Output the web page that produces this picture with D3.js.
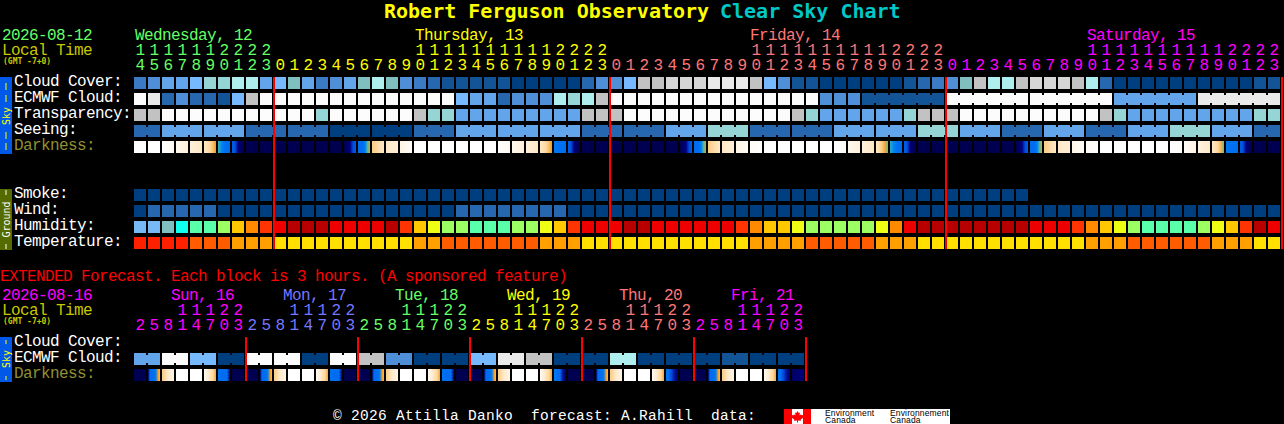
<!DOCTYPE html>
<html><head><meta charset="utf-8">
<script src="https://cdn.jsdelivr.net/npm/d3@7/dist/d3.min.js"></script>
<style>
html,body{margin:0;padding:0;background:#000;overflow:hidden}
svg{display:block;background:#000}
text{font-family:"Liberation Mono",monospace;font-size:16px;letter-spacing:-0.6px;white-space:pre}
</style></head><body><div id="chart"></div>
<script>
// Row labels
const mainLabels = ["Cloud Cover:","ECMWF Cloud:","Transparency:","Seeing:","Darkness:"];
const groundLabels = ["Smoke:","Wind:","Humidity:","Temperature:"];
const extLabels = ["Cloud Cover:","ECMWF Cloud:","Darkness:"];
const hours = [14,15,16,17,18,19,20,21,22,23,0,1,2,3,4,5,6,7,8,9,10,11,12,13,14,15,16,17,18,19,20,21,22,23,0,1,2,3,4,5,6,7,8,9,10,11,12,13,14,15,16,17,18,19,20,21,22,23,0,1,2,3,4,5,6,7,8,9,10,11,12,13,14,15,16,17,18,19,20,21,22,23];
const dayNames = ["Wednesday, 12","Thursday, 13","Friday, 14","Saturday, 15"];
const extHours = [2,5,8,11,14,17,20,23,2,5,8,11,14,17,20,23,2,5,8,11,14,17,20,23,2,5,8,11,14,17,20,23,2,5,8,11,14,17,20,23,2,5,8,11,14,17,20,23];
const extDayNames = ["Sun, 16","Mon, 17","Tue, 18","Wed, 19","Thu, 20","Fri, 21"];

// Sky levels: index into the cloud palette
const cloudCover = [3,4,5,5,6,8,8,9,9,5, 6,7,5,3,4,5,7,9,7,4, 3,2,1,1,1,1,1,0,0,0, 0,0,2,4,4,6,10,10,11,11, 11,12,12,12,10,6,4,1,1,0, 0,0,0,0,0,1,2,3,4,7, 10,9,9,10,11,11,11,10,9,2, 0,0,0,0,0,0,0,0,0,0, 1,1];
const ecmwfCloud = [13,12,2,4,2,2,1,6,10,13, 13,13,13,13,13,13,13,13,13,13, 13,13,13,6,5,5,2,4,4,4, 9,8,9,10,13,13,13,13,13,13, 13,13,13,13,13,13,13,13,13,4, 4,4,1,1,1,1,1,1,13,13, 13,13,13,13,13,13,13,13,13,13, 5,5,5,5,5,5,12,12,12,12, 12,12];
const transparency = [10,10,13,13,13,13,13,13,13,13, 13,13,13,8,13,13,13,13,13,13, 10,8,8,5,5,5,5,5,5,5, 5,5,10,10,10,13,13,13,13,13, 13,13,13,13,13,13,13,10,8,5, 5,5,5,5,5,8,10,10,10,13, 13,13,13,13,13,13,13,13,13,10, 8,5,5,5,5,5,5,5,5,5, 8,8];
const seeing = [2,2,5,5,5,5,5,5,2,2, 2,2,2,2,0,0,0,0,0,0, 2,2,2,5,5,5,5,5,5,5, 5,5,2,2,2,2,2,2,5,5, 5,8,8,8,2,2,2,2,2,2, 5,5,5,5,5,5,8,8,8,5, 5,5,2,2,2,5,5,5,2,2, 2,5,5,5,8,8,8,5,5,5, 2,2];
const smoke = [0,0,0,0,0,0,0,0,0,0, 0,0,0,0,0,0,0,0,0,0, 0,0,0,0,0,0,0,0,0,0, 0,0,0,0,0,0,0,0,0,0, 0,0,0,0,0,0,0,0,0,0, 0,0,0,0,0,0,0,0,0,0, 0,0,0,0];
const wind = [0,2,2,2,2,2,0,0,0,0, 0,0,0,0,0,0,0,0,0,0, 0,0,0,2,2,2,2,2,2,2, 2,0,0,0,0,0,0,0,0,0, 0,0,0,0,0,0,0,0,0,0, 0,0,0,0,0,0,0,0,0,0, 0,0,0,0,0,0,0,0,0,0, 0,0,0,0,0,0,0,0,0,0, 0,0];
const humidity = [0,0,1,2,3,3,4,6,7,8, 9,10,10,10,9,9,9,9,10,8, 6,5,4,4,3,3,3,4,4,5, 6,8,9,9,9,10,10,9,9,9, 9,9,9,8,7,6,6,5,4,4, 4,4,4,5,7,9,10,10,10,10, 10,10,10,10,9,9,9,8,7,6, 5,4,3,3,3,3,4,5,6,8, 10,9];
const temperature = [0,0,0,0,1,1,1,2,2,2, 3,3,3,3,3,3,3,3,3,3, 2,2,1,1,1,1,1,1,1,2, 2,2,3,3,3,3,3,3,3,3, 3,3,3,3,2,2,2,2,1,1, 1,1,1,2,2,2,3,3,3,3, 3,3,3,3,3,3,3,3,2,2, 2,1,1,1,1,1,1,2,2,2, 3,3];
// Darkness: sky-darkness samples read across each block (0 daylight … 8 full night)
const darkness = [0,0,[0,.4],[.4,.9],[.9,1.3],[1.3,1.6,2,2.4,3],[3.7,4.6,5,5],[5.3,5.6,7,7.6,8],8,8, 8,8,8,8,8,[8,7.6,7,5.8,5.3],[5,5,5,4.6,3.6,3],[2.2,1.2],[1.3,.9],[.6,.2], 0,0,0,0,0,0,[0,.4],[.4,.9],[.9,1.3],[1.3,1.6,2,2.4,3], [4.8,5],[5.3,5.6,7,7.6,8],8,8,8,8,8,8,8,[8,7.6,7,5.8,5.3], [5,5,5,4.6,3.6,3],[2.2,1.2],[1.3,.9],[.6,.2],[.2,0],0,0,0,0,0, [0,.2],[.4,.9],[.9,1.3],[1.3,1.7,2.2,2.8,3.5],[3.8,4.6,5,5],[5.3,5.6,7,7.6,8],8,8,8,8, 8,8,8,[8,7.6,7,5.8,5.3],[5,5,5,4.6,3.6,3],[2.2,1.2],[1.3,.9],[.6,.2],[.2,0],0, 0,0,0,0,[0,.2],[.2,.7],[.7,1.2],[1.2,1.6,2,2.6,3.5],[4.8,5],[5.3,5.6,7,7.6,8], 8,8];
const extEcmwf = [5,5,13,13,6,6,0,0, 13,13,13,13,0,0,13,13, 10,10,4,4,0,0,0,0, 6,6,12,12,10,10,0,0, 0,0,9,9,0,0,0,0, 0,0,1,1,0,0,0,0];
const extDarkness = [8,[7.8,5,5,5,4.6,3,2.5],[2.2,1.2,.5],0,0,[.3,.9,1.4,2,2.8],[4.8,5,5,5,7.4],8, 8,[7.8,5,5,5,4.6,3,2.5],[2.2,1.2,.5],0,0,[.3,.9,1.4,2,2.8],[4.8,5,5,5,7.4],8, 8,[7.8,5,5,5,4.6,3,2.5],[2.2,1.2,.5],0,0,[.3,.9,1.4,2,2.8],[4.8,5,5,5,7.4],8, 8,[7.8,5,5,5,4.6,3,2.5],[2.2,1.2,.5],0,0,[.3,.9,1.4,2,2.8],[4.6,5,5,6.8,7.4],8, 8,[7.8,5,5,5,4.6,3,2.5],[2.2,1.2,.5],0,0,[.3,.9,1.4,2,2.8],[4.8,5,6,6.8,7.2],8, 8,[7.8,5,5,5,4.6,3,2.5],[2.2,1.2,.5],0,0,[.3,.9,1.4,2,2.8],[4.8,5,6,6.8,7.2],[7.6,7]];

// Palettes
const cloudColors = ["#003f7f","#135497","#2767af","#3b7bc3","#4f8fd7","#63a5eb","#77b9ff","#7fbfbf","#95d5d5","#aeeeee","#c2c2c2","#d6d6d6","#eaeaea","#fcfcfc"];
const humidityColors = ["#77b9f5","#7fbfbf","#10ffee","#5affaa","#9cff62","#eeff14","#ffc800","#ff8a00","#ff3400","#ee0000","#b80000"];
const temperatureColors = ["#ff2000","#ff5c00","#ffa000","#ffe000"];
const darkDomain = [0,1,2,3,3.5,4,5,6,7,8];
const darkRange = ["#ffffff","#ffeed6","#ffd79c","#f29a1e","#60c090","#00a0f0","#006cf0","#0040d0","#000080","#000050"];
const mainDayColors = ["#66ff66","#ffff00","#ff7777","#ff00ff"];
const extDayColors = ["#ff00ff","#7777ff","#66ff66","#ffff00","#ff7777","#ff00ff"];

const W=1284,H=424;
const svg=d3.select("#chart").append("svg").attr("width",W).attr("height",H).attr("viewBox",`0 0 ${W} ${H}`);
const defs=svg.append("defs");
const cloudScale=d3.scaleOrdinal(d3.range(cloudColors.length),cloudColors);
const humScale=d3.scaleOrdinal(d3.range(humidityColors.length),humidityColors);
const tempScale=d3.scaleOrdinal(d3.range(temperatureColors.length),temperatureColors);
const darkScale=d3.scaleLinear().domain(darkDomain).range(darkRange).interpolate(d3.interpolateRgb);

const GAP=2, BLOCK_H=12, NOTCH=2;
const xMain=d3.scaleLinear().domain([0,hours.length]).range([134,1282]);
const xExt=d3.scaleLinear().domain([0,extHours.length]).range([134,806]);
const yRow=d3.scaleOrdinal(["cloud","ecmwf","transp","seeing","dark","smoke","wind","hum","temp","xcloud","xecmwf","xdark"],
  [77,93,109,125,141,189,205,221,237,337,353,369]);

const txt=(t,x,y,fill,o={})=>{
  const e=svg.append("text").attr("x",x).attr("y",y).attr("fill",fill).text(t);
  if(o.size)e.style("font-size",o.size+"px");
  if(o.bold)e.attr("font-weight","bold");
  if(o.family)e.style("font-family",o.family);
  if(o.spacing!==undefined)e.style("letter-spacing",o.spacing+"px");
  if(o.anchor)e.attr("text-anchor",o.anchor);
  return e;
};
let gid=0;
function row(key,vals,x,scale,linked){
  const y=yRow(key), g=svg.append("g").attr("class","row-"+key);
  vals.forEach((v,i)=>{
    const bx=x(i), bw=x(i+1)-x(i)-GAP;
    let fill;
    if(Array.isArray(v)){
      const id="dg"+(gid++);
      const lg=defs.append("linearGradient").attr("id",id);
      v.forEach((s,j)=>lg.append("stop").attr("offset",j/(v.length-1)).attr("stop-color",scale(s)));
      fill=`url(#${id})`;
    } else fill=scale(v);
    g.append("rect").attr("x",bx).attr("y",y).attr("width",bw).attr("height",BLOCK_H).attr("fill",fill);
    if(linked&&linked(i)&&i<vals.length-1)
      g.append("rect").attr("x",bx+bw).attr("y",y+NOTCH).attr("width",GAP).attr("height",BLOCK_H-2*NOTCH).attr("fill",fill);
  });
}
const TITLE={size:20,bold:true,family:"'DejaVu Sans Mono',monospace",spacing:0};
const SMALL={size:8,bold:true,family:"'DejaVu Sans Mono',monospace",spacing:0};
// Title
txt("Robert Ferguson Observatory",384,18,"#ffff00",TITLE);
txt("Clear Sky Chart",720,18,"#00c8c8",TITLE);
// Main header
txt("2026-08-12",2,40,"#66ff66");
txt("Local Time",2,55,"#c8c800");
txt("(GMT -7+0)",3,64,"#c8c800",SMALL);
const dayOf=i=>i<10?0:i<34?1:i<58?2:3;
[135,415,750,1087].forEach((px,i)=>txt(dayNames[i],px,40,mainDayColors[i]));
hours.forEach((h,i)=>{
  const cx=(xMain(i)+xMain(i+1)-GAP)/2, c=mainDayColors[dayOf(i)];
  if(h>=10)txt(String(Math.floor(h/10)),cx,55,c,{anchor:"middle"});
  txt(String(h%10),cx,70,c,{anchor:"middle"});
});
// Main labels
mainLabels.forEach((t,i)=>txt(t,14,86+16*i,t==="Darkness:"?"#909030":"#ffffff"));
groundLabels.forEach((t,i)=>txt(t,14,198+16*i,"#ffffff"));
// Main rows
row("cloud",cloudCover,xMain,cloudScale);
row("ecmwf",ecmwfCloud,xMain,cloudScale,i=>i>=52&&(i-51)%6!==0);
row("transp",transparency,xMain,cloudScale);
row("seeing",seeing,xMain,cloudScale,i=>(i-1)%3!==0);
row("dark",darkness,xMain,darkScale);
row("smoke",smoke,xMain,cloudScale);
row("wind",wind,xMain,cloudScale);
row("hum",humidity,xMain,humScale);
row("temp",temperature,xMain,tempScale);
// Red day dividers
[10,34,58,82].forEach(i=>svg.append("rect").attr("x",xMain(i)-1).attr("y",77).attr("width",2).attr("height",172).attr("fill","#ff0000"));
// Side bars
function rotText(t,yc,color){
  svg.append("text").attr("transform",`translate(9.5,${yc}) rotate(-90)`).attr("text-anchor","middle").attr("fill",color)
    .style("font-size","10px").style("font-family","'DejaVu Sans Mono',monospace").style("letter-spacing","0").text(t);
}
function dash(y,color,len){svg.append("rect").attr("x",5.5).attr("y",y).attr("width",1).attr("height",len).attr("fill",color);}
svg.append("rect").attr("x",0).attr("y",77).attr("width",12).attr("height",77).attr("fill","#0058e8");
[83,95,132,143].forEach(y=>dash(y,"#ffff00",7));rotText("Sky",116,"#ffff00");
svg.append("rect").attr("x",0).attr("y",189).attr("width",12).attr("height",61).attr("fill","#556b00");
[190,244].forEach(y=>dash(y,"#ffffff",5));rotText("Ground",219.5,"#ffffff");
svg.append("rect").attr("x",0).attr("y",337).attr("width",12).attr("height",45).attr("fill","#0058e8");
[340,376].forEach(y=>dash(y,"#ffff00",4));rotText("Sky",359,"#ffff00");
// Extended
txt("EXTENDED Forecast. Each block is 3 hours. (A sponsored feature)",0,281,"#ff0000");
txt("2026-08-16",2,300,"#ff00ff");
txt("Local Time",2,315,"#c8c800");
txt("(GMT -7+0)",3,324,"#c8c800",SMALL);
extDayNames.forEach((t,i)=>txt(t,171+112*i,300,extDayColors[i]));
extHours.forEach((h,i)=>{
  const cx=(xExt(i)+xExt(i+1)-GAP)/2, c=extDayColors[Math.floor(i/8)];
  if(h>=10)txt(String(Math.floor(h/10)),cx,315,c,{anchor:"middle"});
  txt(String(h%10),cx,330,c,{anchor:"middle"});
});
extLabels.forEach((t,i)=>txt(t,14,346+16*i,t==="Darkness:"?"#909030":"#ffffff"));
row("xecmwf",extEcmwf,xExt,cloudScale,i=>i%2===0);
row("xdark",extDarkness,xExt,darkScale);
[8,16,24,32,40,48].forEach(i=>svg.append("rect").attr("x",xExt(i)-1).attr("y",337).attr("width",2).attr("height",44).attr("fill","#ff0000"));
// Footer
txt("© 2026 Attilla Danko  forecast: A.Rahill  data:",333,419.5,"#ffffff",{size:14.5,spacing:.3});
svg.append("rect").attr("x",784).attr("y",409).attr("width",166).attr("height",15).attr("fill","#ffffff");
svg.append("rect").attr("x",784).attr("y",409).attr("width",8).attr("height",15).attr("fill","#ff0000");
svg.append("rect").attr("x",803).attr("y",409).attr("width",8).attr("height",15).attr("fill","#ff0000");
svg.append("path").attr("d","M797.5 411l1.2 2 1.3-.6-.5 3 1.5-1.2.5 1 2-.3-.6 2 .8.5-3 2.2.3 1.2-3-.4v2h-1v-2l-3 .4.3-1.2-3-2.2.8-.5-.6-2 2 .3.5-1 1.5 1.2-.5-3 1.3.6z").attr("fill","#ff0000");
[[825,"Environment"],[890,"Environnement"]].forEach(([x,t])=>{
  const o={size:8.5,family:"'Liberation Sans',sans-serif",spacing:.15};
  txt(t,x,416,"#000",o);
  txt("Canada",x,423,"#000",o);
});
</script></body></html>
